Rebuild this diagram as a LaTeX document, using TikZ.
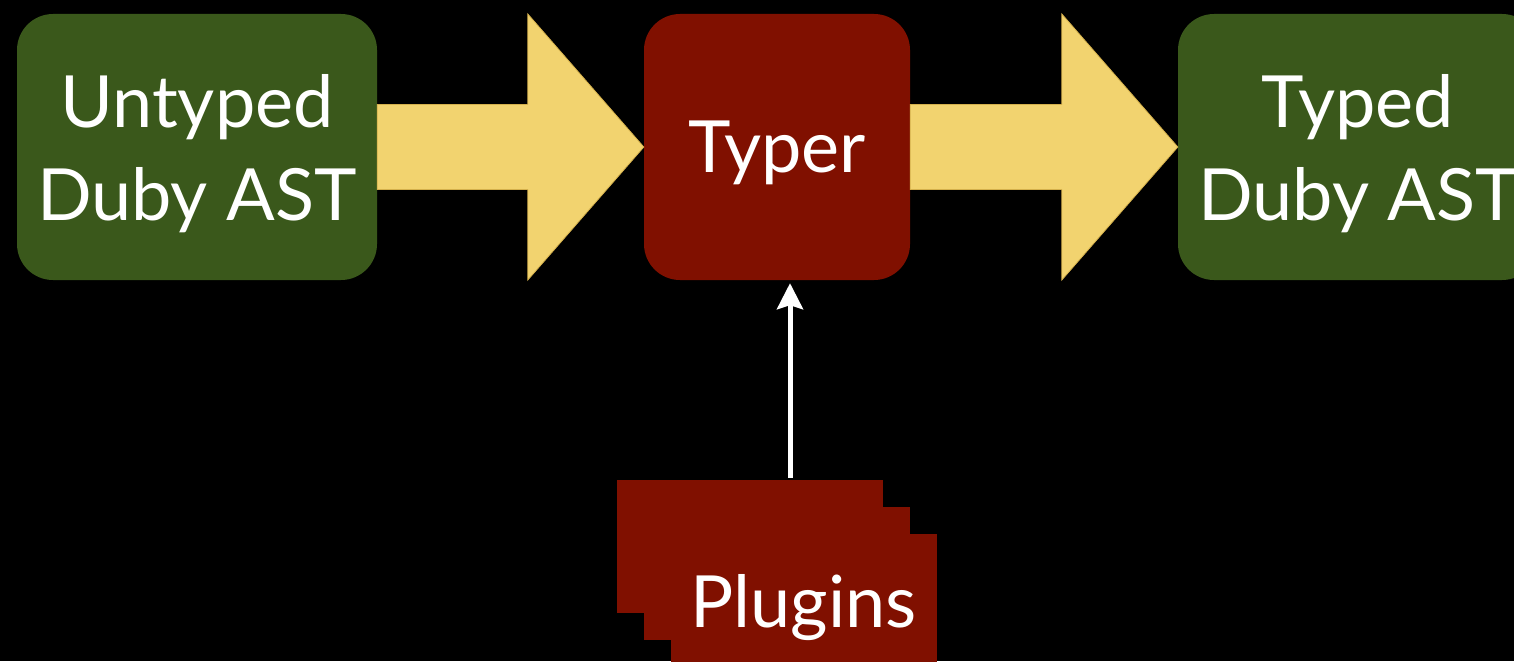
\documentclass[tikz,border=0pt]{standalone}
\usepackage{fontspec}
\setmainfont{Lato}
\usetikzlibrary{arrows.meta,calc}

\definecolor{astgreen}{HTML}{3A581B}
\definecolor{typerred}{HTML}{801000}
\definecolor{flowyellow}{HTML}{F2D36F}
\definecolor{flowedge}{HTML}{D4B04C}

\tikzset{
  stagebox/.style={fill=#1, rounded corners=36pt, minimum width=360pt,
    minimum height=266pt, inner sep=0pt},
  plugbox/.style={fill=typerred, minimum width=266pt, minimum height=133pt,
    inner sep=0pt},
  boxtext/.style={inner sep=0pt, align=center, text=white,
    font=\fontsize{72}{93}\selectfont},
  flowarrow/.style={fill=flowyellow, draw=flowedge, line width=0.8pt, line join=miter},
  hookarrow/.style={draw=white, line width=5pt,
    -{Stealth[length=26pt, width=26pt, inset=4pt]}},
}

\begin{document}
\begin{tikzpicture}[x=1pt, y=-1pt]
  \useasboundingbox (0,0) rectangle (1514,661);
  \fill[black] (0,0) rectangle (1514,661);
  \clip (0,0) rectangle (1514,661);

  % the three stages
  \node[stagebox=astgreen, minimum width=360pt] (untyped) at (197,147) {};
  \node[stagebox=typerred, minimum width=266pt] (typer) at (777,147) {};
  \node[stagebox=astgreen, minimum width=360pt] (typed) at (1358,147) {};

  \node[boxtext] (untypedtext) at ([yshift=-7pt]untyped.center) {Untyped\\Duby AST};
  \node[boxtext] (typertext) at ([yshift=-6pt]typer.center) {Typer};
  \node[boxtext] (typedtext) at ([yshift=-7pt]typed.center) {Typed\\Duby AST};

  % broad flow arrows between the stages
  \foreach \a/\b in {untyped/typer, typer/typed}{
    \path[flowarrow] let \p1=(\a.east), \p2=(\b.west) in
      (\x1,{\y1+42.5pt}) -- ({\x2-116pt},{\y1+42.5pt}) -- ({\x2-116pt},{\y1+133pt})
      -- (\x2,\y1) -- ({\x2-116pt},{\y1-133pt}) -- ({\x2-116pt},{\y1-42.5pt})
      -- (\x1,{\y1-42.5pt}) -- cycle;
  }

  % stack of plugins
  \node[plugbox] (plugA) at (750,546.5) {};
  \node[plugbox] (plugB) at (776.5,573.5) {};
  \node[plugbox] (plugC) at (803.5,600) {};
  \node[boxtext] (plugtext) at ([yshift=-8pt]plugC.center) {Plugins};

  % plugins feed the typer
  \coordinate (feed) at ([xshift=13pt]typer.south);
  \draw[hookarrow, shorten <=2pt, shorten >=3pt] (feed |- plugA.north) -- (feed);
\end{tikzpicture}
\end{document}
